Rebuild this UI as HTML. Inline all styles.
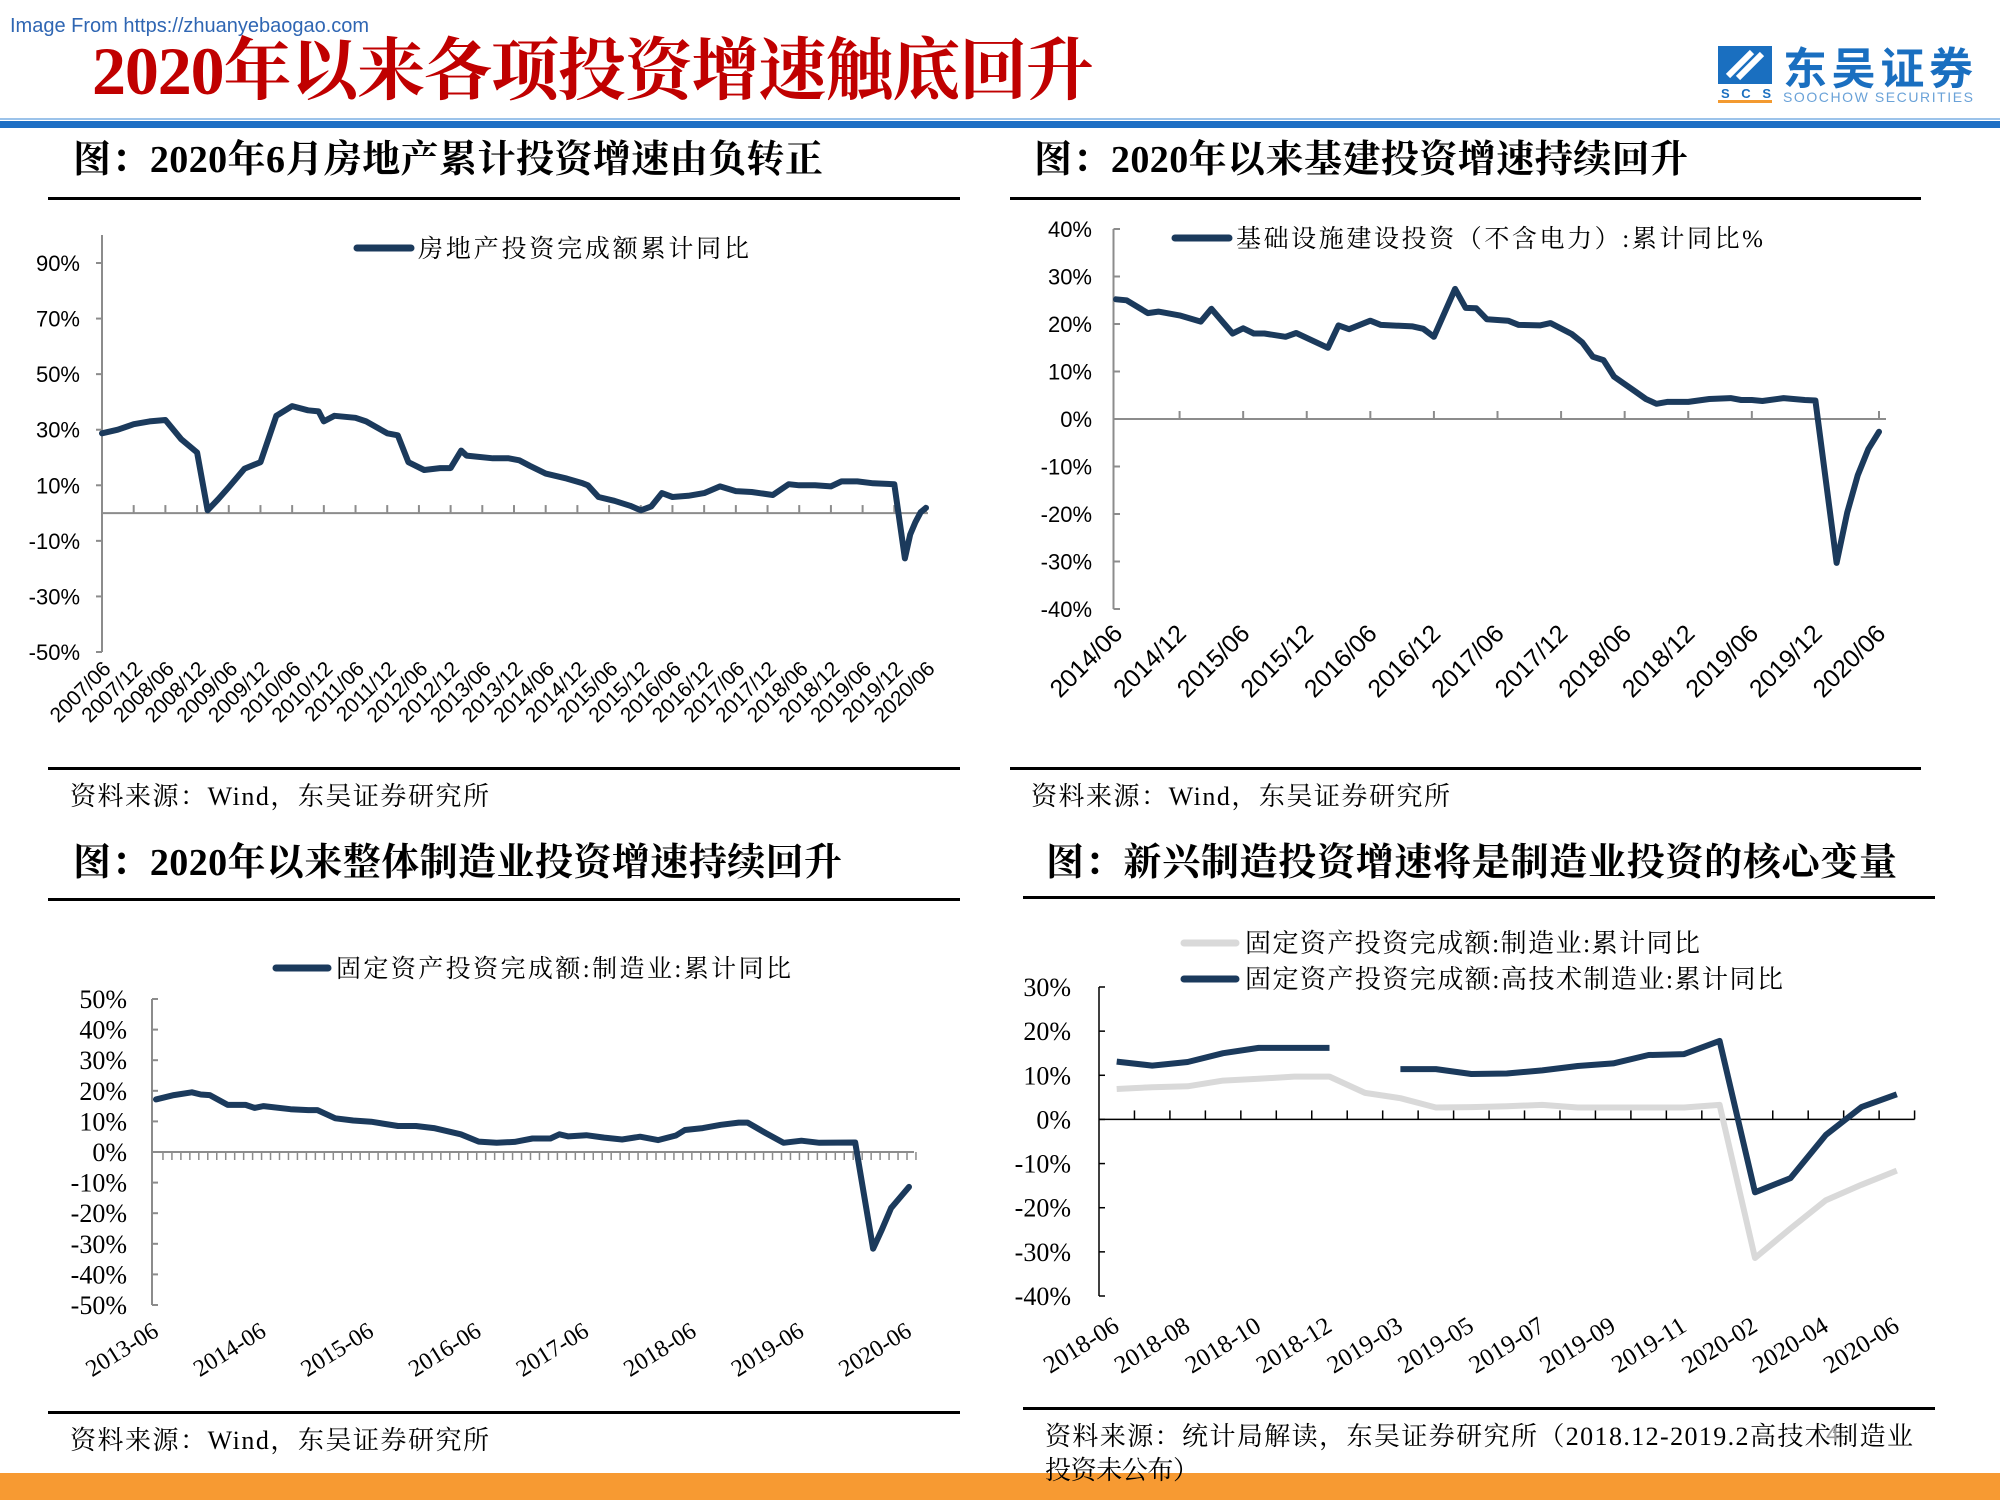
<!DOCTYPE html>
<html><head><meta charset="utf-8">
<style>
html,body{margin:0;padding:0;background:#fff;}
svg{display:block;}
.sans{font-family:"Liberation Sans","Noto Sans CJK SC",sans-serif;}
.serif{font-family:"Liberation Serif","Noto Serif CJK SC",serif;}
</style></head>
<body>
<svg id="page" width="2000" height="1500" viewBox="0 0 2000 1500" xmlns="http://www.w3.org/2000/svg">
  <text x="10" y="32" class="sans" font-size="20" fill="#2f66b3">Image From https://zhuanyebaogao.com</text>
  <text x="92" y="94" class="serif" font-size="68" font-weight="bold" fill="#c00000" textLength="1002">2020年以来各项投资增速触底回升</text>
  <g>
    <rect x="1718" y="46" width="54" height="38" fill="#1a6fc0"/>
    <path d="M1728 76 L1752 52 M1738 78 L1762 54" stroke="#fff" stroke-width="6" fill="none"/>
    <text x="1721" y="98" class="sans" font-size="13" font-weight="bold" fill="#1a6fc0" textLength="50">SCS</text>
    <rect x="1718" y="100" width="54" height="3" fill="#f39a30"/>
    <text x="1783" y="84" class="sans" font-size="44" font-weight="bold" fill="#1a6fc0" textLength="190">东吴证券</text>
    <text x="1783" y="102" class="sans" font-size="14" fill="#6aa2d8" textLength="190">SOOCHOW SECURITIES</text>
  </g>
  <rect x="0" y="118" width="2000" height="2" fill="#9cc3ea"/>
  <rect x="0" y="121" width="2000" height="7" fill="#1e6fc4"/>

  <text x="73" y="172" class="serif" font-size="38" font-weight="bold" fill="#000" textLength="750">图：2020年6月房地产累计投资增速由负转正</text>
  <text x="1034" y="172" class="serif" font-size="38" font-weight="bold" fill="#000" textLength="654">图：2020年以来基建投资增速持续回升</text>
  <rect x="48" y="197" width="912" height="3" fill="#000"/>
  <rect x="1010" y="197" width="911" height="3" fill="#000"/>
  <rect x="48" y="767" width="912" height="3" fill="#000"/>
  <rect x="1010" y="767" width="911" height="3" fill="#000"/>
  <text x="70" y="805" class="serif" font-size="26" fill="#000" textLength="419">资料来源：Wind，东吴证券研究所</text>
  <text x="1031" y="805" class="serif" font-size="26" fill="#000" textLength="419">资料来源：Wind，东吴证券研究所</text>

  <text x="73" y="875" class="serif" font-size="38" font-weight="bold" fill="#000" textLength="769">图：2020年以来整体制造业投资增速持续回升</text>
  <text x="1046" y="875" class="serif" font-size="38" font-weight="bold" fill="#000" textLength="851">图：新兴制造投资增速将是制造业投资的核心变量</text>
  <rect x="48" y="898" width="912" height="3" fill="#000"/>
  <rect x="1023" y="896" width="912" height="3" fill="#000"/>
  <rect x="48" y="1411" width="912" height="3" fill="#000"/>
  <rect x="1023" y="1407" width="912" height="3" fill="#000"/>
  <text x="70" y="1449" class="serif" font-size="26" fill="#000" textLength="419">资料来源：Wind，东吴证券研究所</text>
  <text x="1045" y="1445" class="serif" font-size="26" fill="#000" textLength="868">资料来源：统计局解读，东吴证券研究所（2018.12-2019.2高技术制造业</text>
  <rect x="0" y="1473" width="2000" height="27" fill="#f79a32"/>
  <text x="1045" y="1479" class="serif" font-size="26" fill="#000" textLength="154">投资未公布）</text>
  <text x="1826" y="1442" class="sans" font-size="24" fill="#999">4</text>

  <g id="c1"></g>
  <g id="c2"></g>
  <g id="c3"></g>
  <g id="c4"></g>
</svg>
<script>
// ---- Chart 1 data (months since 2007/06) ----
const c1Months = [0,3,6,9,12,15,18,20,22,24,27,30,33,36,39,41,42,44,48,50,54,56,58,61,64,66,68,69,74,77,79,81,84,88,91,92,94,97,100,102,104,106,108,111,114,117,120,123,127,130,132,135,138,140,143,146,150,152,153,154,155,156];
const c1Values = [28.7,30,32,33,33.5,26.6,21.8,1,5,9.3,16,18.3,35,38.5,37,36.6,33,35,34.3,33,28.7,28,18.3,15.5,16.2,16.2,22.5,20.7,19.7,19.7,19,17,14.2,12.4,10.7,10,5.8,4.4,2.6,1,2.4,7.2,5.8,6.2,7.2,9.6,7.9,7.6,6.5,10.4,10,10,9.6,11.4,11.4,10.7,10.4,-16.3,-7.7,-3.3,0.3,1.9];
const c1YTicks = ["90%","70%","50%","30%","10%","-10%","-30%","-50%"];
const c1YTickValues = [90,70,50,30,10,-10,-30,-50];
const c1XLabels = ["2007/06","2007/12","2008/06","2008/12","2009/06","2009/12","2010/06","2010/12","2011/06","2011/12","2012/06","2012/12","2013/06","2013/12","2014/06","2014/12","2015/06","2015/12","2016/06","2016/12","2017/06","2017/12","2018/06","2018/12","2019/06","2019/12","2020/06"];
// ---- Chart 2 data (months since 2014/06) ----
const c2Months = [0,1,3,4,6,8,9,11,12,13,14,16,17,20,21,22,24,25,28,29,30,32,33,34,35,37,38,40,41,43,44,45,46,47,49,50,51,52,54,56,58,59,60,61,63,65,66,68,69,70,71,72];
const c2Values = [25.2,25,22.3,22.6,21.8,20.5,23.2,18,19.1,18,18,17.3,18.1,15,19.7,18.9,20.7,19.8,19.5,19,17.3,27.4,23.4,23.3,21,20.7,19.8,19.7,20.2,17.9,16.1,13.1,12.4,8.9,5.8,4.2,3.2,3.6,3.6,4.2,4.4,4,4,3.8,4.4,4,3.9,-30.3,-19.7,-11.8,-6.3,-2.7];
const c2YTicks = ["40%","30%","20%","10%","0%","-10%","-20%","-30%","-40%"];
const c2YTickValues = [40,30,20,10,0,-10,-20,-30,-40];
const c2XLabels = ["2014/06","2014/12","2015/06","2015/12","2016/06","2016/12","2017/06","2017/12","2018/06","2018/12","2019/06","2019/12","2020/06"];
// ---- Chart 3 data (months since 2013/06) ----
const c3Months = [0,2,4,5,6,8,10,11,12,15,17,18,20,22,24,27,29,31,34,36,38,40,42,44,45,46,48,50,52,54,56,58,59,61,63,65,66,68,70,72,74,78,80,81,82,83,84];
const c3Values = [17.2,18.6,19.5,18.8,18.6,15.4,15.4,14.4,15,14,13.7,13.7,11,10.3,9.9,8.5,8.5,7.8,5.8,3.4,3,3.3,4.4,4.4,5.8,5.1,5.5,4.7,4.1,5,3.9,5.4,7.2,7.8,8.9,9.6,9.6,6.2,3,3.7,3,3.1,-31.6,-25.2,-18.3,-14.9,-11.4];
const c3YTicks = ["50%","40%","30%","20%","10%","0%","-10%","-20%","-30%","-40%","-50%"];
const c3YTickValues = [50,40,30,20,10,0,-10,-20,-30,-40,-50];
const c3XLabels = ["2013-06","2014-06","2015-06","2016-06","2017-06","2018-06","2019-06","2020-06"];
// ---- Chart 4 data ----
const c4Categories = ["2018-06","2018-07","2018-08","2018-09","2018-10","2018-11","2018-12","2019-02","2019-03","2019-04","2019-05","2019-06","2019-07","2019-08","2019-09","2019-10","2019-11","2019-12","2020-02","2020-03","2020-04","2020-05","2020-06"];
const c4Manufacturing = [6.9,7.3,7.5,8.8,9.2,9.7,9.7,6,4.8,2.7,2.8,3,3.3,2.7,2.7,2.7,2.7,3.3,-31.4,-24.7,-18.3,-14.8,-11.6];
const c4HighTech = [13.1,12.2,13,15,16.2,16.2,16.2,null,11.4,11.4,10.3,10.4,11.1,12.1,12.7,14.6,14.8,17.8,-16.5,-13.3,-3.5,2.8,5.7];
const c4YTicks = ["30%","20%","10%","0%","-10%","-20%","-30%","-40%"];
const c4YTickValues = [30,20,10,0,-10,-20,-30,-40];

const NS = "http://www.w3.org/2000/svg";
const DARK = "#1b3a5c";
function mk(parent, tag, attrs, text){
  const e = document.createElementNS(NS, tag);
  for (const k in attrs) e.setAttribute(k, attrs[k]);
  if (text !== undefined) e.textContent = text;
  parent.appendChild(e);
  return e;
}
function linear(d0, d1, r0, r1){ return v => r0 + (v - d0) * (r1 - r0) / (d1 - d0); }
function pathFrom(xs, ys, xf, yf){
  let d = "", pen = false;
  for (let i = 0; i < xs.length; i++){
    if (ys[i] === null){ pen = false; continue; }
    d += (pen ? "L" : "M") + xf(xs[i]).toFixed(1) + " " + yf(ys[i]).toFixed(1) + " ";
    pen = true;
  }
  return d;
}

// ===== Chart 1 =====
(function(){
  const g = document.getElementById('c1');
  const x = linear(0, 156, 102, 926);
  const y = linear(90, -50, 263, 652);
  const ax = mk(g,'line',{x1:102,y1:235,x2:102,y2:652,stroke:'#8c8c8c','stroke-width':2});
  
  
  const zl = mk(g,'line',{x1:102,y1:y(0),x2:928,y2:y(0),stroke:'#8c8c8c','stroke-width':2});
  
  
  c1YTickValues.forEach((v,i)=>{
    mk(g,'line',{x1:96,y1:y(v),x2:102,y2:y(v),stroke:'#8c8c8c','stroke-width':2});
    const t = mk(g,'text',{x:80,y:y(v)+8,'text-anchor':'end','font-size':22,class:'sans',fill:'#000'},c1YTicks[i]);
    
    
  });
  c1XLabels.forEach((lab,i)=>{
    const m = i*6;
    if (m>0) mk(g,'line',{x1:x(m),y1:y(0)-8,x2:x(m),y2:y(0),stroke:'#8c8c8c','stroke-width':2});
    const t = mk(g,'text',{x:0,y:0,'text-anchor':'end','font-size':21,class:'sans',fill:'#000',transform:`translate(${x(m)+10},${670}) rotate(-45)`},lab);
    
    
  });
  const p = mk(g,'path',{d:pathFrom(c1Months,c1Values,x,y),fill:'none',stroke:DARK,'stroke-width':6,'stroke-linejoin':'round','stroke-linecap':'round'});
  
  
  mk(g,'line',{x1:357,y1:248,x2:411,y2:248,stroke:DARK,'stroke-width':7,'stroke-linecap':'round'});
  const lt = mk(g,'text',{x:418,y:257,'font-size':25,class:'serif',fill:'#000',textLength:331},'房地产投资完成额累计同比');
  
  
})();

// ===== Chart 2 =====
(function(){
  const g = document.getElementById('c2');
  const x = linear(0, 72, 1116, 1879);
  const y = linear(40, -40, 229, 609);
  const ax = mk(g,'line',{x1:1113.5,y1:229,x2:1113.5,y2:609,stroke:'#8c8c8c','stroke-width':2});
  
  
  const zl = mk(g,'line',{x1:1113.5,y1:y(0),x2:1886,y2:y(0),stroke:'#8c8c8c','stroke-width':2});
  
  
  c2YTickValues.forEach((v,i)=>{
    mk(g,'line',{x1:1113.5,y1:y(v),x2:1120,y2:y(v),stroke:'#8c8c8c','stroke-width':2});
    const t = mk(g,'text',{x:1092,y:y(v)+8,'text-anchor':'end','font-size':22,class:'sans',fill:'#000'},c2YTicks[i]);
    
    
  });
  c2XLabels.forEach((lab,i)=>{
    const m = i*6;
    if (m>0) mk(g,'line',{x1:x(m),y1:y(0)-8,x2:x(m),y2:y(0),stroke:'#8c8c8c','stroke-width':2});
    const t = mk(g,'text',{x:0,y:0,'text-anchor':'end','font-size':25,class:'sans',fill:'#000',transform:`translate(${x(m)+8},${635}) rotate(-45)`},lab);
    
    
  });
  const p = mk(g,'path',{d:pathFrom(c2Months,c2Values,x,y),fill:'none',stroke:DARK,'stroke-width':6,'stroke-linejoin':'round','stroke-linecap':'round'});
  
  
  mk(g,'line',{x1:1175,y1:238,x2:1229,y2:238,stroke:DARK,'stroke-width':7,'stroke-linecap':'round'});
  const lt = mk(g,'text',{x:1236,y:247,'font-size':25,class:'serif',fill:'#000',textLength:527},'基础设施建设投资（不含电力）:累计同比%');
  
  
})();

// ===== Chart 3 =====
(function(){
  const g = document.getElementById('c3');
  const x = linear(0, 84, 156, 909);
  const y = linear(50, -50, 999, 1305);
  const ax = mk(g,'line',{x1:152,y1:999,x2:152,y2:1305,stroke:'#8c8c8c','stroke-width':2});
  
  
  const zl = mk(g,'line',{x1:152,y1:y(0),x2:914,y2:y(0),stroke:'#8c8c8c','stroke-width':2});
  
  
  c3YTickValues.forEach((v,i)=>{
    mk(g,'line',{x1:152,y1:y(v),x2:158,y2:y(v),stroke:'#8c8c8c','stroke-width':2});
    const t = mk(g,'text',{x:127,y:y(v)+9,'text-anchor':'end','font-size':26,class:'serif',fill:'#000'},c3YTicks[i]);
    
    
  });
  for (let m = 1; m <= 85; m++){
    mk(g,'line',{x1:x(m)-2,y1:y(0),x2:x(m)-2,y2:y(0)+8,stroke:'#8c8c8c','stroke-width':1.5});
  }
  c3XLabels.forEach((lab,i)=>{
    const m = i*12;
    const t = mk(g,'text',{x:0,y:0,'text-anchor':'end','font-size':24,class:'serif',fill:'#000',transform:`translate(${x(m)+4},${1335}) rotate(-32)`},lab);
    
    
  });
  const p = mk(g,'path',{d:pathFrom(c3Months,c3Values,x,y),fill:'none',stroke:DARK,'stroke-width':6,'stroke-linejoin':'round','stroke-linecap':'round'});
  
  
  mk(g,'line',{x1:276,y1:968,x2:328,y2:968,stroke:DARK,'stroke-width':7,'stroke-linecap':'round'});
  const lt = mk(g,'text',{x:336,y:977,'font-size':25,class:'serif',fill:'#000',textLength:455},'固定资产投资完成额:制造业:累计同比');
  
  
})();

// ===== Chart 4 =====
(function(){
  const g = document.getElementById('c4');
  const x0 = 1099, bw = 35.46;
  const x = i => x0 + bw*(i+0.5);
  const y = linear(30, -40, 987, 1296);
  const idx = c4Categories.map((c,i)=>i);
  const ax = mk(g,'line',{x1:x0,y1:987,x2:x0,y2:1296,stroke:'#000','stroke-width':1.5});
  
  
  const zl = mk(g,'line',{x1:x0,y1:y(0),x2:x0+bw*c4Categories.length,y2:y(0),stroke:'#000','stroke-width':1.5});
  
  
  c4YTickValues.forEach((v,i)=>{
    mk(g,'line',{x1:x0,y1:y(v),x2:x0+6,y2:y(v),stroke:'#000','stroke-width':1.5});
    const t = mk(g,'text',{x:1071,y:y(v)+9,'text-anchor':'end','font-size':26,class:'serif',fill:'#000'},c4YTicks[i]);
    
    
  });
  c4Categories.forEach((c,i)=>{
    mk(g,'line',{x1:x0+bw*(i+1),y1:y(0)-9,x2:x0+bw*(i+1),y2:y(0),stroke:'#000','stroke-width':1.5});
    if (i % 2 === 0){
      const t = mk(g,'text',{x:0,y:0,'text-anchor':'end','font-size':25,class:'serif',fill:'#000',transform:`translate(${x(i)+4},${1330}) rotate(-32)`},c);
      
      
    }
  });
  const p1 = mk(g,'path',{d:pathFrom(idx,c4Manufacturing,x,y),fill:'none',stroke:'#d9d9d9','stroke-width':6,'stroke-linejoin':'round'});
  
  
  const p2 = mk(g,'path',{d:pathFrom(idx,c4HighTech,x,y),fill:'none',stroke:DARK,'stroke-width':6,'stroke-linejoin':'round'});
  
  
  mk(g,'line',{x1:1184,y1:943,x2:1236,y2:943,stroke:'#d9d9d9','stroke-width':7,'stroke-linecap':'round'});
  const l1 = mk(g,'text',{x:1245,y:952,'font-size':26,class:'serif',fill:'#000',textLength:455},'固定资产投资完成额:制造业:累计同比');
  
  
  mk(g,'line',{x1:1184,y1:979,x2:1236,y2:979,stroke:DARK,'stroke-width':7,'stroke-linecap':'round'});
  const l2 = mk(g,'text',{x:1245,y:988,'font-size':26,class:'serif',fill:'#000',textLength:538},'固定资产投资完成额:高技术制造业:累计同比');
  
  
})();
</script>
</body></html>
